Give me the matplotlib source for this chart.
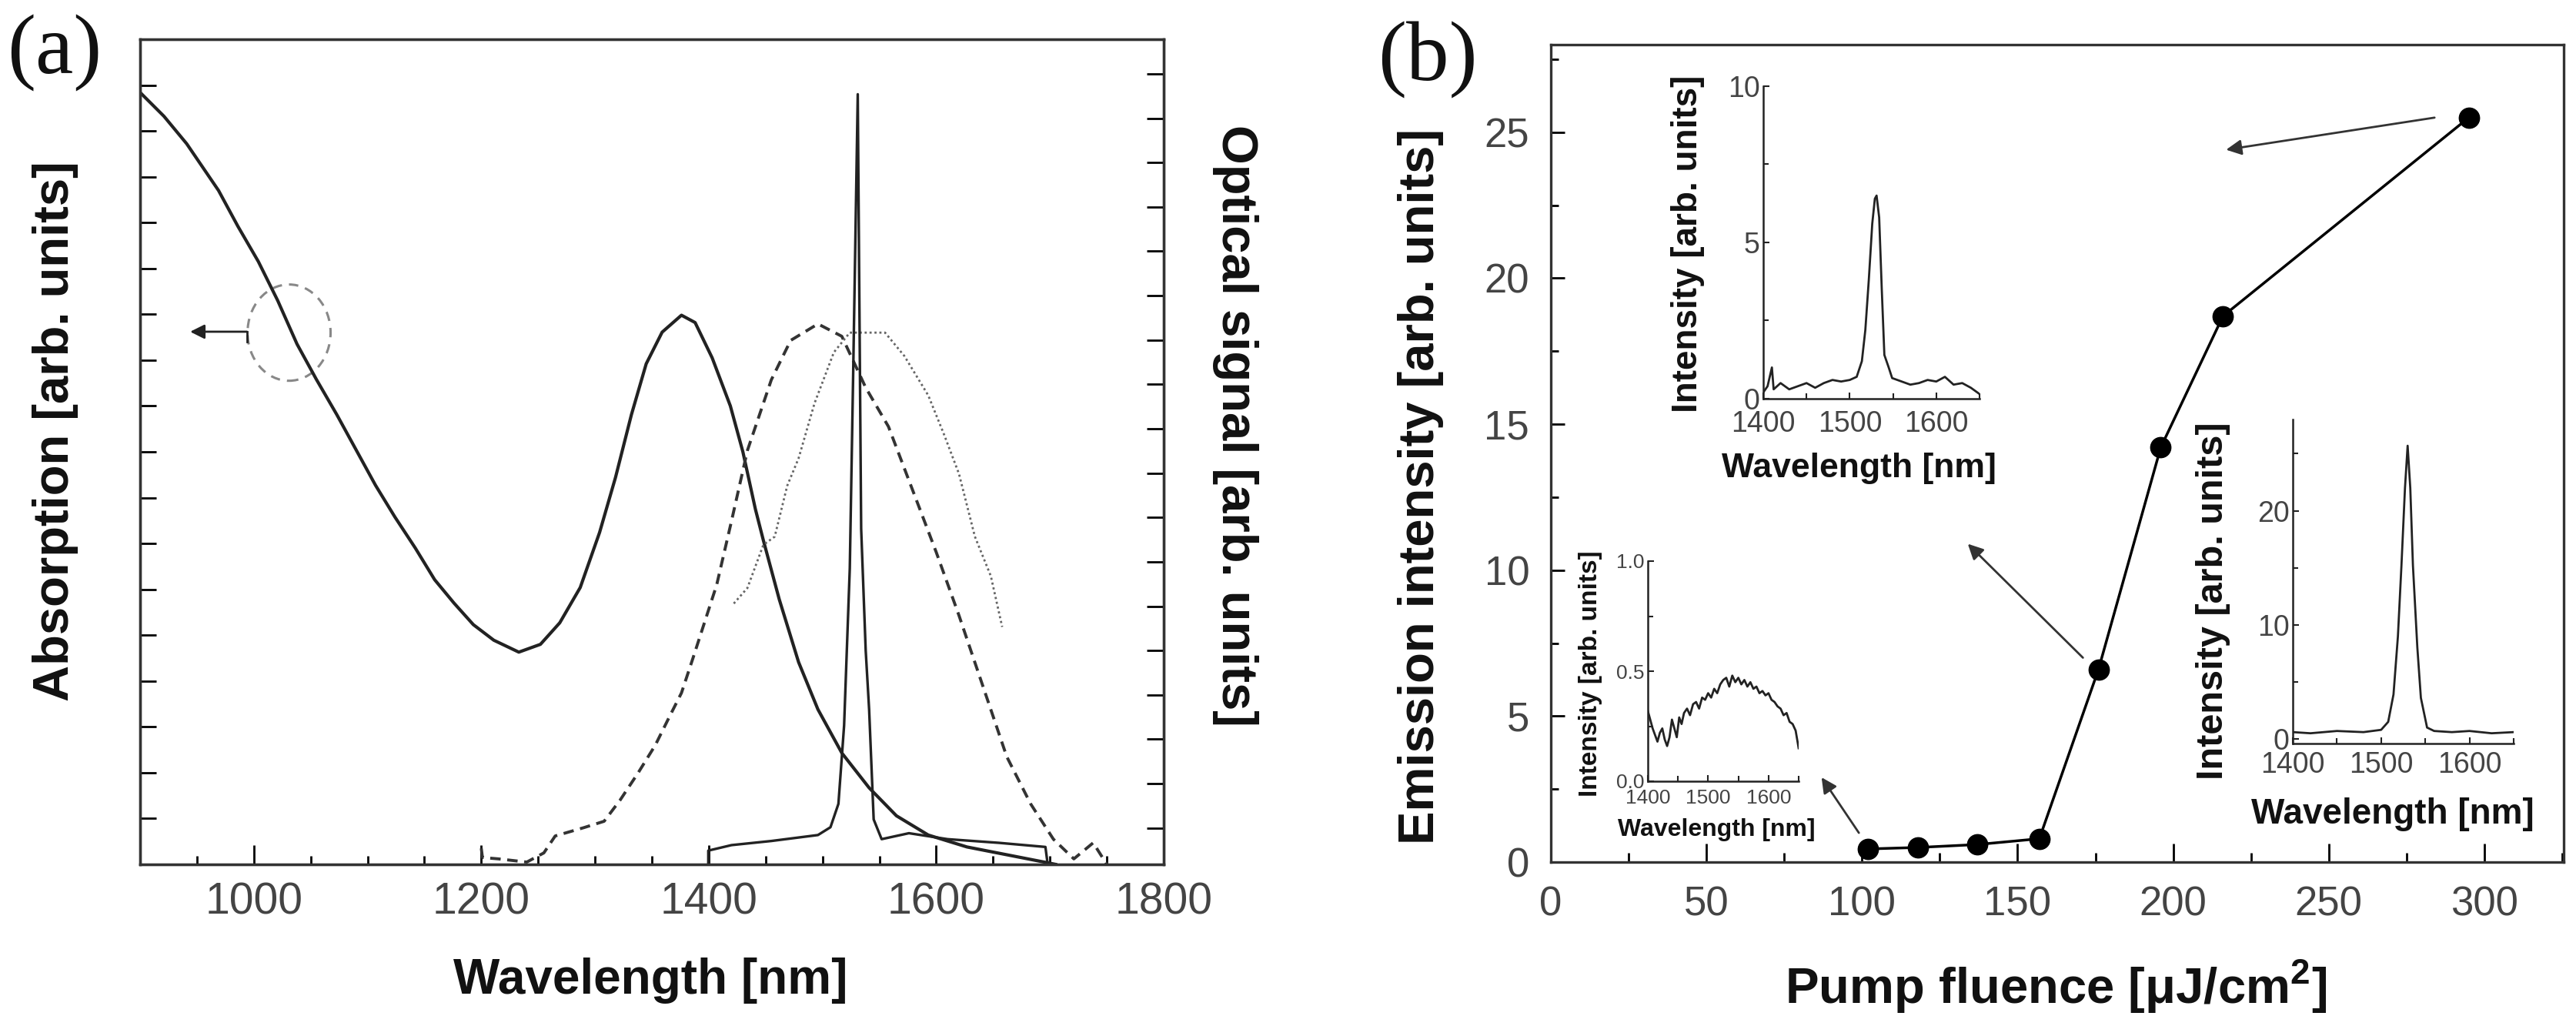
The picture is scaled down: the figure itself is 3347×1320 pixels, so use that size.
import numpy as np
import matplotlib
matplotlib.use("Agg")
import matplotlib.pyplot as plt
from matplotlib import font_manager
from matplotlib.patches import Ellipse
from matplotlib.ticker import MultipleLocator, FormatStrFormatter

# =============================================================================
# Data
# =============================================================================
# (a) absorption (solid), left axis units
abs_nm = [900, 921, 941, 969, 986, 1004, 1021, 1038, 1055, 1073, 1090, 1107, 1124, 1142,
          1159, 1176, 1193, 1211, 1233, 1252, 1269, 1287, 1304, 1318, 1332, 1345, 1359,
          1376, 1388, 1403, 1419, 1430, 1441, 1448, 1462, 1479, 1496, 1517, 1541, 1565,
          1593, 1627, 1662, 1697, 1705]
abs_val = [16.84, 16.32, 15.72, 14.7, 13.92, 13.15, 12.3, 11.35, 10.58, 9.81, 9.04, 8.27,
           7.58, 6.9, 6.21, 5.7, 5.23, 4.89, 4.63, 4.8, 5.27, 6.04, 7.24, 8.44, 9.81,
           10.92, 11.61, 11.98, 11.82, 11.05, 10.0, 9.0, 7.75, 7.07, 5.78, 4.41, 3.38,
           2.43, 1.67, 1.06, 0.64, 0.38, 0.21, 0.04, 0.0]

# (a) broad dashed spectrum
pl_nm = [1200, 1201, 1215, 1240, 1255, 1265, 1290, 1308, 1322, 1338, 1353, 1365, 1376,
         1386, 1407, 1420, 1434, 1455, 1472, 1496, 1517, 1538, 1558, 1579, 1600, 1620,
         1641, 1662, 1683, 1703, 1721, 1738, 1750]
pl_val = [0.35, 0.15, 0.12, 0.05, 0.25, 0.62, 0.8, 0.94, 1.4, 2.0, 2.6, 3.2, 3.74,
          4.49, 6.1, 7.49, 9.03, 10.57, 11.43, 11.79, 11.52, 10.4, 9.55, 8.18, 6.81, 5.43,
          3.89, 2.35, 1.32, 0.55, 0.12, 0.47, 0.0]

# (a) dotted spectrum
dot_nm = [1422, 1434, 1448, 1458, 1469, 1479, 1493, 1510, 1524, 1541, 1555, 1572, 1593,
          1607, 1620, 1634, 1648, 1658]
dot_val = [5.69, 6.03, 6.97, 7.15, 8.26, 8.86, 10.06, 11.17, 11.6, 11.6, 11.6, 11.09,
           10.23, 9.37, 8.52, 7.15, 6.29, 5.18]

# (a) narrow emission line
las_nm = [1399.6, 1399.6, 1420, 1455, 1496, 1507, 1514, 1519, 1524, 1527, 1531, 1534,
          1538, 1541, 1545, 1552, 1576, 1610, 1655, 1696, 1698]
las_val = [0.0, 0.3, 0.42, 0.51, 0.64, 0.81, 1.32, 3.03, 6.46, 10.74, 16.8, 7.32,
           4.66, 3.38, 0.98, 0.55, 0.68, 0.55, 0.47, 0.38, 0.0]

# (b) emission intensity vs pump fluence
fluence = [102, 118, 137, 157, 176, 196, 216, 295]
emission = [0.45, 0.5, 0.6, 0.8, 6.6, 14.2, 18.7, 25.5]

# (b) inset spectra
insA_nm = [1400, 1405, 1410, 1412, 1420, 1430, 1440, 1450, 1460, 1470, 1480, 1490, 1500,
           1508, 1514, 1518, 1522, 1526, 1529, 1531, 1534, 1537, 1540, 1545, 1549, 1560,
           1570, 1580, 1590, 1600, 1610, 1620, 1630, 1640, 1650]
insA_val = [0.2, 0.4, 1.0, 0.3, 0.5, 0.3, 0.4, 0.5, 0.35, 0.5, 0.6, 0.55, 0.6,
            0.7, 1.2, 2.2, 3.8, 5.6, 6.4, 6.5, 5.8, 3.5, 1.4, 1.0, 0.66, 0.55,
            0.45, 0.5, 0.6, 0.55, 0.7, 0.45, 0.5, 0.35, 0.15]

insB_nm = [1400, 1404, 1408, 1412, 1416, 1420, 1424, 1428, 1432, 1436, 1440, 1444, 1448,
           1452, 1456, 1460, 1465, 1470, 1475, 1480, 1485, 1490, 1495, 1500, 1505, 1510,
           1515, 1520, 1525, 1530, 1535, 1540, 1545, 1550, 1555, 1560, 1565, 1570, 1575,
           1580, 1585, 1590, 1595, 1600, 1605, 1610, 1615, 1620, 1625, 1630, 1635, 1640,
           1645, 1650]
insB_val = [0.32, 0.28, 0.24, 0.21, 0.18, 0.22, 0.24, 0.19, 0.16, 0.20, 0.28, 0.24, 0.20,
            0.29, 0.26, 0.31, 0.33, 0.30, 0.35, 0.36, 0.33, 0.38, 0.37, 0.40, 0.38, 0.42,
            0.40, 0.44, 0.46, 0.47, 0.43, 0.48, 0.45, 0.47, 0.44, 0.46, 0.43, 0.45, 0.42,
            0.43, 0.40, 0.41, 0.39, 0.40, 0.37, 0.36, 0.34, 0.33, 0.30, 0.31, 0.27, 0.26,
            0.23, 0.15]

insC_nm = [1400, 1420, 1450, 1480, 1500, 1508, 1514, 1519, 1523, 1527, 1530, 1533, 1536,
           1541, 1545, 1552, 1560, 1580, 1600, 1625, 1650]
insC_val = [0.6, 0.5, 0.7, 0.6, 0.8, 1.5, 3.9, 9.0, 15.2, 22.0, 25.7, 22.0, 15.2,
            8.0, 3.6, 1.0, 0.7, 0.6, 0.7, 0.5, 0.6]

# =============================================================================
# Figure set-up
# =============================================================================
W, H = 3347, 1320
names = {f.name for f in font_manager.fontManager.ttflist}
NARROW = 'Liberation Sans Narrow' if 'Liberation Sans Narrow' in names else 'Liberation Sans'
plt.rcParams['font.family'] = [NARROW, 'DejaVu Sans']
plt.rcParams['mathtext.fontset'] = 'custom'
plt.rcParams['mathtext.rm'] = 'Liberation Sans'
plt.rcParams['mathtext.bf'] = 'Liberation Sans:bold'

INK = '#222222'
TICK = '#444444'


def box(l, t, r, b):
    # pixel box -> figure fraction rect
    return [l / W, 1 - b / H, (r - l) / W, (b - t) / H]


def label(x, y, s, size, rot=0, va='center'):
    fig.text(x / W, 1 - y / H, s, fontsize=size, rotation=rot, ha='center', va=va,
             family='Liberation Sans', weight='bold', color='#111111')


def inset(rect, xlim, ylim, ymaj, ymin, lsize, yfmt=None, xpad=7):
    ins = fig.add_axes(rect)
    ins.patch.set_visible(False)
    ins.set_xlim(*xlim)
    ins.set_ylim(*ylim)
    for side in ['top', 'right']:
        ins.spines[side].set_visible(False)
    for side in ['left', 'bottom']:
        ins.spines[side].set_linewidth(1.8)
        ins.spines[side].set_color(INK)
    ins.xaxis.set_major_locator(MultipleLocator(100))
    ins.xaxis.set_minor_locator(MultipleLocator(50))
    ins.yaxis.set_major_locator(MultipleLocator(ymaj))
    ins.yaxis.set_minor_locator(MultipleLocator(ymin))
    if yfmt:
        ins.yaxis.set_major_formatter(FormatStrFormatter(yfmt))
    ins.tick_params(which='both', direction='in', width=1.5, labelsize=lsize,
                    colors=INK, labelcolor=TICK, pad=3)
    ins.tick_params(axis='x', pad=xpad)
    ins.tick_params(which='major', length=6)
    ins.tick_params(which='minor', length=5)
    return ins


fig = plt.figure(figsize=(W / 100, H / 100), dpi=100)

# =============================================================================
# Panel (a)
# =============================================================================
ax = fig.add_axes(box(182, 51, 1512, 1123))
ax.set_xlim(900, 1800)
ax.set_ylim(0, 18)
for sp in ax.spines.values():
    sp.set_linewidth(2.4)
    sp.set_color('#333333')
ax.xaxis.set_major_locator(MultipleLocator(200))
ax.xaxis.set_minor_locator(MultipleLocator(50))
ax.yaxis.set_major_locator(MultipleLocator(1))
ax.tick_params(axis='x', which='major', direction='in', length=18, width=2,
               labelsize=41, labelcolor=TICK, pad=16, top=False)
ax.tick_params(axis='x', which='minor', direction='in', length=8, width=2, top=False)
ax.tick_params(axis='y', direction='in', length=15, width=2, labelleft=False)

ax2 = ax.twinx()
ax2.set_ylim(0, 18.6)
ax2.set_yticks(np.arange(0.82, 18.3, 1))
ax2.tick_params(axis='y', direction='in', length=16, width=2, labelright=False)
for sp in ax2.spines.values():
    sp.set_linewidth(2.4)
    sp.set_color('#333333')

ax.plot(abs_nm, abs_val, color=INK, lw=3)
ax.plot(pl_nm, pl_val, color='#333333', lw=2.8, linestyle=(0, (3.5, 2.2)))
ax.plot(dot_nm, dot_val, color='#666666', lw=2, linestyle=(0, (1, 1.3)))
ax.plot(las_nm, las_val, color=INK, lw=2.4)

ax.add_patch(Ellipse((1031, 11.6), 73, 2.1, fill=False, ec='#888888', lw=2.2,
                     ls=(0, (4, 3))))
ax.annotate('', xy=(944, 11.62), xytext=(994, 11.62),
            arrowprops=dict(arrowstyle='-|>', color=INK, lw=2, mutation_scale=28,
                            shrinkA=0, shrinkB=0))
ax.plot([994, 994], [11.62, 11.4], color=INK, lw=2)

fig.text(71 / W, 1 - 69 / H, '(a)', family='Liberation Serif', fontsize=80,
         ha='center', va='center', color='#111111')
label(72, 560, 'Absorption [arb. units]', 47, rot=90)
label(845, 1274, 'Wavelength [nm]', 46)
label(1605, 553, 'Optical signal [arb. units]', 47, rot=-90)

# =============================================================================
# Panel (b)
# =============================================================================
bx = fig.add_axes(box(2015, 58, 3331, 1120))
bx.set_xlim(0, 325.5)
bx.set_ylim(0, 28)
for sp in bx.spines.values():
    sp.set_linewidth(2.4)
    sp.set_color('#333333')
bx.xaxis.set_major_locator(MultipleLocator(50))
bx.xaxis.set_minor_locator(MultipleLocator(25))
bx.yaxis.set_major_locator(MultipleLocator(5))
bx.yaxis.set_minor_locator(MultipleLocator(2.5))
bx.tick_params(which='both', direction='in', width=2, labelsize=38, labelcolor=TICK,
               top=False, right=False)
bx.tick_params(axis='x', which='major', length=17, pad=22)
bx.tick_params(axis='x', which='minor', length=9)
bx.tick_params(axis='y', which='major', length=13, pad=20)
bx.tick_params(axis='y', which='minor', length=7)

bx.plot(fluence, emission, '-o', color='k', lw=2.5, ms=19)

arrow = dict(arrowstyle='-|>', color='#333333', lw=2, mutation_scale=30, shrinkA=0, shrinkB=0)
bx.annotate('', xy=(217, 24.4), xytext=(284, 25.5), arrowprops=arrow)
bx.annotate('', xy=(134, 10.9), xytext=(171, 7.0), arrowprops=arrow)
bx.annotate('', xy=(87, 2.9), xytext=(99, 1.0), arrowprops=arrow)

fig.text(1855 / W, 1 - 78 / H, '(b)', family='Liberation Serif', fontsize=80,
         ha='center', va='center', color='#111111')
label(1846, 632, 'Emission intensity [arb. units]', 47, rot=90)
label(2671, 1304, r'Pump fluence [μJ/cm$^{\mathbf{2}}$]', 47, va='baseline')

# inset: below threshold
iB = inset(box(2141, 729, 2337, 1015), (1400, 1650), (0, 1.0), 0.5, 0.25, 19, '%.1f')
iB.plot(insB_nm, insB_val, color=INK, lw=2)
label(2066, 875, 'Intensity [arb. units]', 24, rot=90)
label(2230, 1078, 'Wavelength [nm]', 23)

# inset: middle
iA = inset(box(2291, 112, 2572, 518), (1400, 1650), (0, 10), 5, 2.5, 27, xpad=11)
iA.plot(insA_nm, insA_val, color=INK, lw=2)
label(2193, 317, 'Intensity [arb. units]', 33, rot=90)
label(2415, 608, 'Wavelength [nm]', 32)

# inset: high fluence
iC = inset(box(2979, 545, 3266, 966), (1400, 1650), (-0.4, 28), 10, 5, 27)
iC.plot(insC_nm, insC_val, color=INK, lw=2)
label(2875, 781, 'Intensity [arb. units]', 35, rot=90)
label(3109, 1058, 'Wavelength [nm]', 33)

fig.savefig('out.png', dpi=100)
